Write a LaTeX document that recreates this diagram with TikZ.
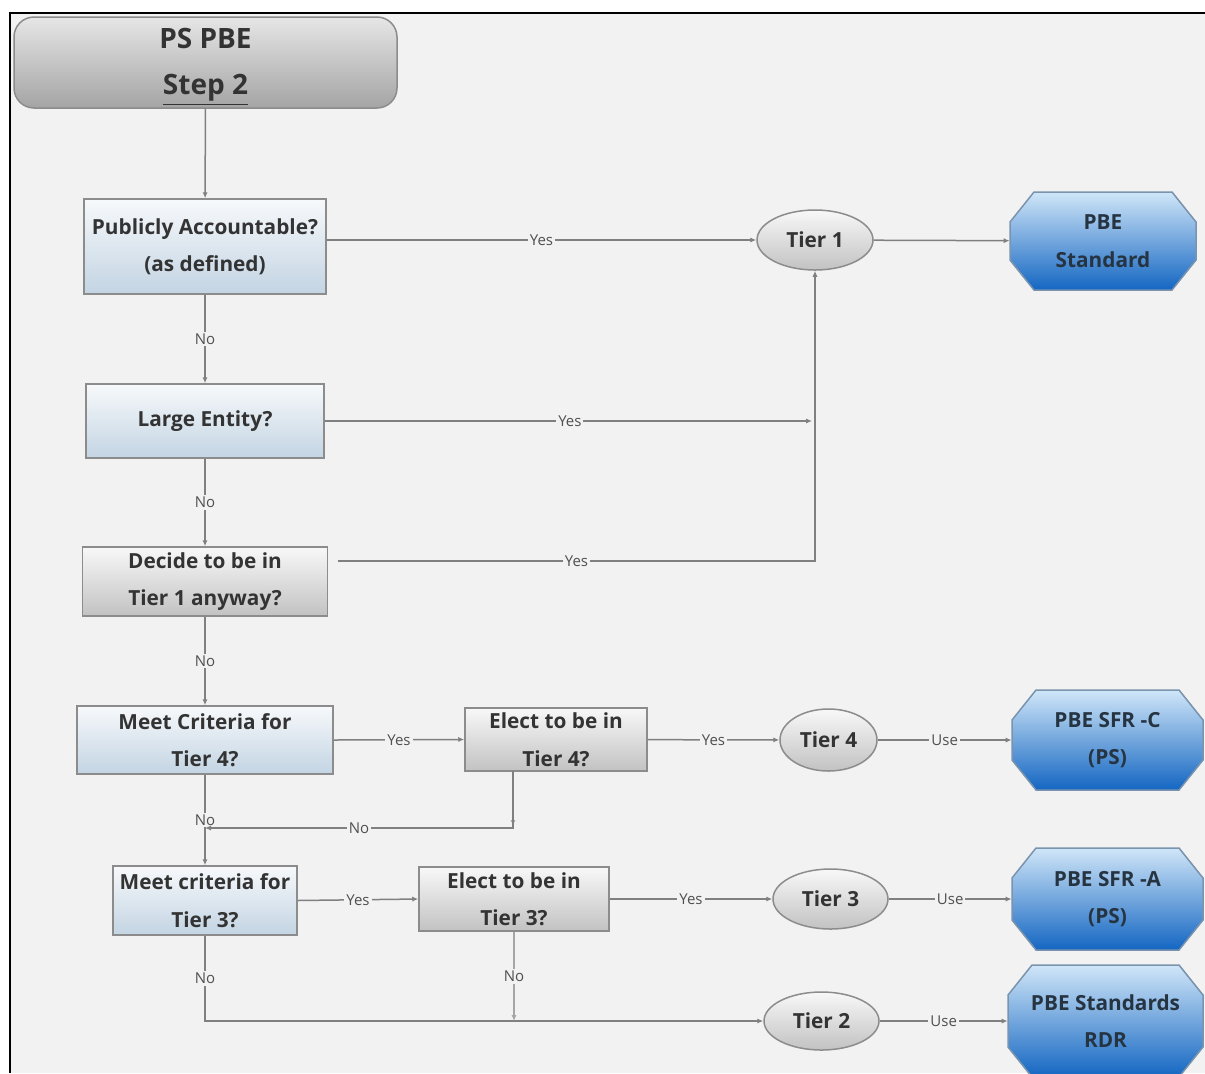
\documentclass[tikz,border=0pt]{standalone}
\usepackage{fontspec}
\setmainfont{Open Sans}
\usetikzlibrary{arrows.meta,shapes.geometric}

\definecolor{pagebg}{HTML}{F2F2F2}
\definecolor{lncol}{HTML}{808080}
\definecolor{bdcol}{HTML}{8C8C8C}
\definecolor{txtcol}{HTML}{333333}
\definecolor{lblcol}{HTML}{505050}
\definecolor{bluebot}{HTML}{C3D4E3}
\definecolor{bluetop}{HTML}{F7F9FB}
\definecolor{graytop}{HTML}{F8F8F8}
\definecolor{graybot}{HTML}{C2C2C2}
\definecolor{titletop}{HTML}{E6E6E6}
\definecolor{titlebot}{HTML}{A4A4A4}
\definecolor{octtop}{HTML}{D0E6F8}
\definecolor{octmid}{HTML}{6EB0EA}
\definecolor{octbot}{HTML}{1466C2}
\definecolor{octbd}{HTML}{7A94AE}
\definecolor{octtxt}{HTML}{263442}

\newcommand\mkoct[6]{%
  \shade[octo] (#2-#4/2+24,#3-#5/2) -- (#2+#4/2-24,#3-#5/2) -- (#2+#4/2,#3-#5/2+30) -- (#2+#4/2,#3+#5/2-30) -- (#2+#4/2-24,#3+#5/2) -- (#2-#4/2+24,#3+#5/2) -- (#2-#4/2,#3+#5/2-30) -- (#2-#4/2,#3-#5/2+30) -- cycle;
  \node[octtext, minimum width=#4*0.5pt, minimum height=#5*0.5pt] (#1) at (#2,#3) {#6};%
}

\begin{document}
\begin{tikzpicture}[x=0.5pt,y=-0.5pt,
  boxfont/.style={font=\bfseries\fontsize{10.4}{18.75}\selectfont},
  box/.style={rectangle, draw=bdcol, line width=0.75pt, boxfont, text=txtcol, align=center, inner sep=0pt},
  bluebox/.style={box, top color=bluetop, bottom color=bluebot},
  graybox/.style={box, top color=graytop, bottom color=graybot},
  tier/.style={ellipse, draw=bdcol, line width=0.75pt, top color=graytop, bottom color=graybot, boxfont, text=txtcol, inner sep=0pt},
  octo/.style={draw=octbd, line width=0.75pt, top color=octtop, middle color=octmid, bottom color=octbot},
  octtext/.style={rectangle, boxfont, text=octtxt, align=center, inner sep=0pt},
  conn/.style={draw=lncol, line width=0.75pt, -{Latex[length=3pt,width=2.6pt]}},
  thickconn/.style={conn, draw=lncol!70, line width=1.3pt},
  lbl/.style={fill=pagebg, inner sep=1pt, font=\fontsize{7.5}{9}\selectfont, text=lblcol}
]
\useasboundingbox (0,0) rectangle (1205,1073);
\fill[white] (0,0) rectangle (1205,1073);
\fill[pagebg] (10,13) rectangle (1205,1073);
\draw[black, line width=1.2pt] (10,1073) -- (10,13) -- (1205,13);

% title
\node[rectangle, rounded corners=10pt, draw=bdcol, line width=0.75pt, top color=titletop, bottom color=titlebot,
      minimum width=191.5pt, minimum height=45.5pt, inner sep=0pt] (title) at (205.5,62.5) {};
\node[inner sep=0pt, align=center, text=txtcol, font=\bfseries\fontsize{14}{23}\selectfont] (titletxt) at (205.5,67) {PS PBE\\\underline{Step 2}};

% decision boxes
\node[bluebox, minimum width=121pt, minimum height=47.5pt] (pa) at (205,246.5) {Publicly Accountable?\\(as defined)};
\node[bluebox, minimum width=119pt, minimum height=37pt] (le) at (205,421) {Large Entity?};
\node[graybox, minimum width=122.5pt, minimum height=34.5pt] (dec) at (205,581.5) {Decide to be in\\Tier 1 anyway?};
\node[bluebox, minimum width=128pt, minimum height=34pt] (mc4) at (205,740) {Meet Criteria for\\Tier 4?};
\node[graybox, minimum width=91pt, minimum height=31.5pt] (el4) at (556,739.5) {Elect to be in\\Tier 4?};
\node[bluebox, minimum width=92pt, minimum height=34.5pt] (mc3) at (205,900.5) {Meet criteria for\\Tier 3?};
\node[graybox, minimum width=95pt, minimum height=32pt] (el3) at (514,899) {Elect to be in\\Tier 3?};

% tiers
\node[tier, minimum width=58pt, minimum height=30pt] (t1) at (815,240) {Tier 1};
\node[tier, minimum width=48.5pt, minimum height=31pt] (t4) at (828.5,740) {Tier 4};
\node[tier, minimum width=57.5pt, minimum height=30pt] (t3) at (830.5,899) {Tier 3};
\node[tier, minimum width=57.5pt, minimum height=29pt] (t2) at (821.5,1021) {Tier 2};

% standards
\mkoct{pbe}{1103}{241}{186}{98}{PBE\\Standard}
\mkoct{sfrc}{1107.5}{740}{191}{100}{PBE SFR -C\\(PS)}
\mkoct{sfra}{1107.5}{899}{191}{102}{PBE SFR -A\\(PS)}
\mkoct{rdr}{1105.5}{1021}{195}{112}{PBE Standards\\RDR}

% helper coordinates
\coordinate (j1) at (t1.south |- le.east);
\coordinate (dy) at (338,561);
\coordinate (dc) at (t1.south |- dy);
\coordinate (e4) at (513,771);
\coordinate (j4) at (205,828);
\coordinate (j3) at (el3.south |- t2.west);

% connectors
\draw[conn] (title) -- (pa);
\draw[conn] (pa.east |- t1) -- node[lbl]{Yes} (t1.west);
\draw[conn] (t1) -- (pbe);
\draw[conn] (pa) -- node[lbl]{No} (le);
\draw[conn, shorten >=1.5pt] (le.east) -- node[lbl]{Yes} (j1);
\draw[conn] (le) -- node[lbl]{No} (dec);
\draw[conn] (dy) -- node[lbl]{Yes} (dc) -- (t1.south);
\draw[conn] (dec) -- node[lbl]{No} (mc4);
\draw[conn] (mc4.east) -- node[lbl]{Yes} (el4.west);
\draw[conn] (el4) -- node[lbl]{Yes} (t4);
\draw[conn] (t4) -- node[lbl]{Use} (sfrc);
\draw[conn] (mc4) -- node[lbl]{No} (mc3);
\draw[thickconn] (e4) -- ++(0,55);
\draw[conn] (e4) |- node[lbl, pos=0.75]{No} (j4);
\draw[conn] (mc3.east) -- node[lbl]{Yes} (el3.west);
\draw[conn] (el3) -- node[lbl]{Yes} (t3);
\draw[conn] (t3) -- node[lbl]{Use} (sfra);
\draw[conn] (mc3.south) |- node[lbl, pos=0.25]{No} (t2.west);
\draw[thickconn] (el3.south) -- node[lbl]{No} (j3);
\draw[conn] (t2) -- node[lbl]{Use} (rdr);
\end{tikzpicture}
\end{document}
